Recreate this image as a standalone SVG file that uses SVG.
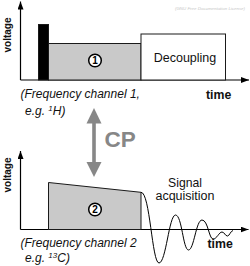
<svg xmlns="http://www.w3.org/2000/svg" width="250" height="266" viewBox="0 0 250 266">
<defs>
<marker id="ah" markerWidth="8" markerHeight="6" refX="8" refY="3" orient="auto" markerUnits="userSpaceOnUse">
<path d="M0,0 L8,3 L0,6 Z" fill="#000"/>
</marker>
<style>
.axis{stroke:#000;stroke-width:1.2;fill:none}
.box{stroke:#1a1a1a;stroke-width:1}
.gray{fill:#c9c9c9}
.t{font-family:"Liberation Sans",Arial,sans-serif;fill:#111}
.b{font-weight:bold}
.i{font-style:italic}
.lbl{font-family:"Liberation Sans",Arial,sans-serif;font-weight:bold;font-size:10px;text-anchor:middle}
</style>
</defs>
<rect width="250" height="266" fill="#fff"/>
<text class="t i" x="175" y="9.5" font-size="4.4" fill="#c8c8c8" style="fill:#c8c8c8" textLength="70">(GNU Free Documentation License)</text>

<g id="connectors">
<line class="axis" x1="20.5" y1="80" x2="20.5" y2="1.5" marker-end="url(#ah)"/>
<line class="axis" x1="20.5" y1="80" x2="249" y2="80" marker-end="url(#ah)"/>
<line class="axis" x1="20.5" y1="229.5" x2="20.5" y2="151" marker-end="url(#ah)"/>
<line class="axis" x1="20.5" y1="229.5" x2="248.5" y2="229.5" marker-end="url(#ah)"/>
<g id="cp-arrow" fill="#878787">
<rect x="92.2" y="121" width="3.6" height="43"/>
<path d="M94,108 L101.5,123.5 L86.5,123.5 Z"/>
<path d="M94,177 L101.5,162 L86.5,162 Z"/>
</g>
</g>

<g id="top-panel">
<text class="t b" font-size="10" text-anchor="middle" transform="translate(10.8,35) rotate(-90)">voltage</text>
<rect class="box" x="38.5" y="24.5" width="10" height="55.5" fill="#000"/>
<rect class="box gray" x="48.5" y="43.5" width="92.5" height="36.5"/>
<g id="decoupling">
<rect class="box" x="141" y="34" width="84.5" height="46" fill="#fff"/>
<text class="t" x="185" y="62" font-size="12.5" text-anchor="middle">Decoupling</text>
</g>
<g id="node1">
<circle cx="95" cy="60.5" r="6.3" fill="#fff" stroke="#000" stroke-width="1.5"/>
<text class="lbl" x="95" y="64">1</text>
</g>
<text class="t b" x="206" y="98.5" font-size="12.3">time</text>
<text class="t i" x="20.5" y="98.3" font-size="12">(Frequency channel 1,</text>
<text class="t i" x="25" y="115" font-size="12">e.g. <tspan font-size="8" dy="-4.5">1</tspan><tspan dy="4.5">H)</tspan></text>
</g>

<g id="cp">
<text x="104.5" y="146.7" font-family="Liberation Sans,Arial,sans-serif" font-weight="bold" font-size="22.5" fill="#878787">CP</text>
</g>

<g id="bottom-panel">
<text class="t b" font-size="10" text-anchor="middle" transform="translate(10.8,175) rotate(-90)">voltage</text>
<g id="node2">
<path class="box gray" d="M48.5,182.5 L141,192.3 L141,229.5 L48.5,229.5 Z"/>
<circle cx="95" cy="209.5" r="6.3" fill="#fff" stroke="#000" stroke-width="1.5"/>
<text class="lbl" x="95" y="213">2</text>
</g>
<path id="fid" d="M141,192.3 C150,192 152,263 159,263 C166,263 169,215 175.5,215 C182,215 183,250 188.5,250 C194,250 196,220 202,220 C208,220 209,239 213,239 C217,239 219,232 222,232 C224.5,232 225,236 227.5,236 C229.5,236 230.5,231 233,230.5" fill="none" stroke="#000" stroke-width="1"/>
<text class="t" x="185" y="186.5" font-size="12.2" text-anchor="middle">Signal</text>
<text class="t" x="185" y="200" font-size="12.5" text-anchor="middle">acquisition</text>
<text class="t b" x="207.5" y="247.5" font-size="12.3">time</text>
<text class="t i" x="20.5" y="247" font-size="12">(Frequency channel 2</text>
<text class="t i" x="25" y="262" font-size="12">e.g. <tspan font-size="8" dy="-4.5">13</tspan><tspan dy="4.5">C)</tspan></text>
</g>
</svg>
